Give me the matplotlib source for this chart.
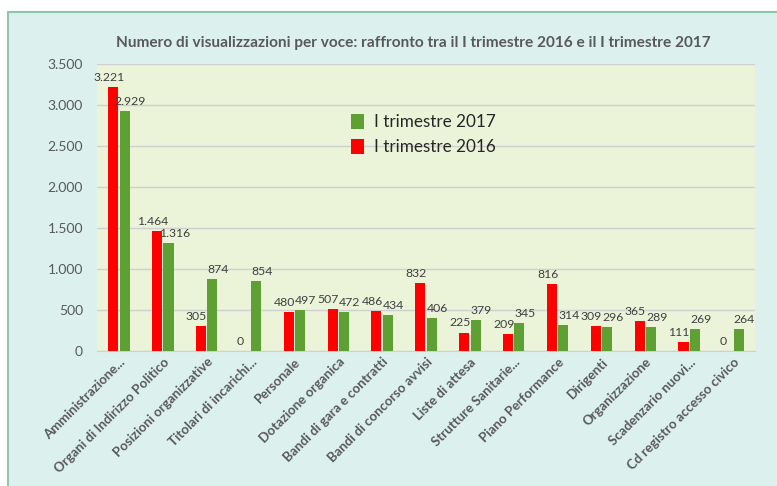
import numpy as np
import matplotlib.pyplot as plt
from matplotlib.patches import Rectangle

plt.rcParams['font.family'] = ['Lato', 'DejaVu Sans']

# categories and values (views per menu item)
categories = ['Amministrazione...', 'Organi di Indirizzo Politico', 'Posizioni organizzative',
              'Titolari di incarichi...', 'Personale', 'Dotazione organica',
              'Bandi di gara e contratti', 'Bandi di concorso avvisi', 'Liste di attesa',
              'Strutture Sanitarie...', 'Piano Performance', 'Dirigenti', 'Organizzazione',
              'Scadenzario nuovi...', 'Cd registro accesso civico']
q1_2016 = [3221, 1464, 305, 0, 480, 507, 486, 832, 225, 209, 816, 309, 365, 111, 0]
q1_2017 = [2929, 1316, 874, 854, 497, 472, 434, 406, 379, 345, 314, 296, 289, 269, 264]
yticks = [0, 500, 1000, 1500, 2000, 2500, 3000, 3500]


def it_fmt(v):
    # Italian thousands separator
    return f'{v:,}'.replace(',', '.')


fig = plt.figure(figsize=(7.77, 4.86), dpi=100)
fig.patch.set_facecolor('white')
# outer chart area with green border (behind the axes)
fig.patches.append(Rectangle((8 / 777, -0.01), 1.0, (486 - 12) / 486 + 0.01,
                             transform=fig.transFigure, facecolor='#DCF0EE',
                             edgecolor='#8DC8AA', linewidth=1.5, zorder=-5))

ax = fig.add_axes([97 / 777, 1 - 351 / 486, 658 / 777, 287 / 486])
ax.set_facecolor('#EBF4D8')

x = np.arange(len(categories))
w = 0.23
gap = 0.03
red = ax.bar(x - w / 2 - gap / 2, q1_2016, w, color='#FF0000', zorder=3, label='I trimestre 2016')
green = ax.bar(x + w / 2 + gap / 2, q1_2017, w, color='#5FA035', zorder=3, label='I trimestre 2017')

for i in range(len(categories)):
    ax.text(x[i] - w / 2 - gap / 2 - 0.1, q1_2016[i] + 50, it_fmt(q1_2016[i]), ha='center', va='bottom',
            fontsize=8.8, color='#404040')
    ax.text(x[i] + w / 2 + gap / 2 + 0.13, q1_2017[i] + 50, it_fmt(q1_2017[i]), ha='center', va='bottom',
            fontsize=8.8, color='#404040')

ax.set_xlim(-0.5, len(categories) - 0.5)
ax.set_ylim(0, 3500)
ax.set_yticks(yticks)
ax.set_yticklabels([it_fmt(v) for v in yticks], fontsize=10, color='#595959')
ax.yaxis.grid(True, color='#D0D0D0', linewidth=1, zorder=0)
ax.set_axisbelow(True)
ax.tick_params(axis='both', length=0)
ax.tick_params(axis='y', pad=10)
ax.set_xticks(x)
ax.set_xticklabels(categories, rotation=45, ha='right', rotation_mode='anchor',
                   fontsize=9.5, fontweight='bold', color='#595959')
for s in ['top', 'right', 'left']:
    ax.spines[s].set_visible(False)
ax.spines['bottom'].set_color('#D0D0D0')

fig.text(413 / 777, 1 - 43 / 486,
         'Numero di visualizzazioni per voce: raffronto tra il I trimestre 2016 e il I trimestre 2017',
         ha='center', va='center', fontsize=11.1, fontweight='bold', color='#595959')

leg = ax.legend([green, red], ['I trimestre 2017', 'I trimestre 2016'],
                loc='upper left', bbox_to_anchor=(0.362, 0.88), frameon=False,
                fontsize=12.3, handlelength=0.8, handleheight=1.0, handletextpad=0.6,
                labelspacing=0.5)
for t in leg.get_texts():
    t.set_color('#262626')

fig.savefig('out.png', dpi=100)
